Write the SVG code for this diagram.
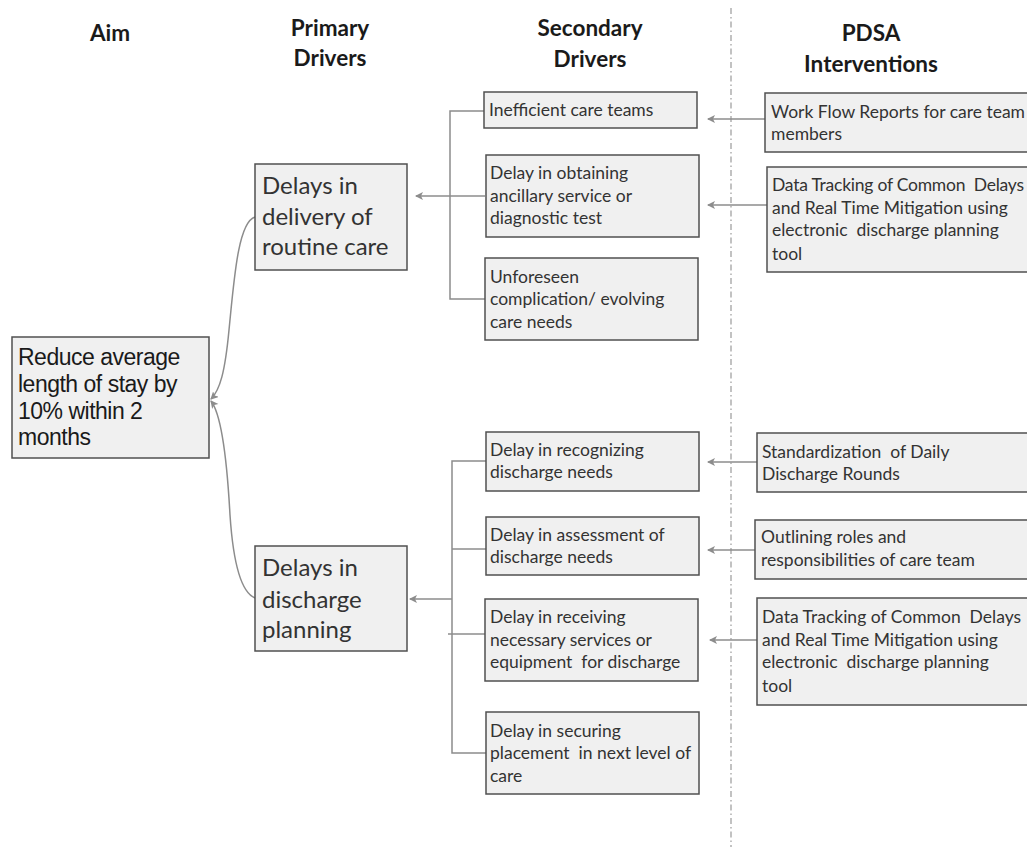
<svg xmlns="http://www.w3.org/2000/svg" width="1027" height="847" viewBox="0 0 1027 847">
<style>
.bg{fill:#ffffff}
.box{fill:#f0f0f0;stroke:#505050;stroke-width:1.5}
.hdr{font-family:Lato,"Open Sans","Liberation Sans",sans-serif;font-weight:bold;font-size:22.5px;fill:#1a1a1a;text-anchor:middle}
.aim{font-family:"Liberation Sans",Arial,sans-serif;font-size:23px;fill:#1a1a1a;letter-spacing:-0.5px}
.pri{font-family:Lato,"Open Sans",sans-serif;font-size:24px;fill:#333333}
.sec{font-family:Lato,"Open Sans",sans-serif;font-size:17.5px;fill:#333333;white-space:pre}
.con{fill:none;stroke:#8c8c8c;stroke-width:1.5}
.div{fill:none;stroke:#9a9a9a;stroke-width:1.2;stroke-dasharray:6 3 1.5 3}
</style>
<defs>
<marker id="ah" markerWidth="10" markerHeight="10" refX="7" refY="4" orient="auto" markerUnits="userSpaceOnUse">
<path d="M0,0 L8,4 L0,8 L2,4 Z" fill="#8c8c8c"/>
</marker>
</defs>
<rect class="bg" x="0" y="0" width="1027" height="847"/>

<g id="headers">
<text class="hdr" x="110" y="41">Aim</text>
<text class="hdr" x="330" y="36">Primary</text>
<text class="hdr" x="330" y="66">Drivers</text>
<text class="hdr" x="590" y="36">Secondary</text>
<text class="hdr" x="590" y="67">Drivers</text>
<text class="hdr" x="871" y="41">PDSA</text>
<text class="hdr" x="871" y="72">Interventions</text>
</g>

<path class="div" d="M731,8 V847"/>

<g id="connectors">
<path class="con" marker-end="url(#ah)" d="M255,217 C238,222 234,280 229,330 C225,372 220,390 211,399"/>
<path class="con" marker-end="url(#ah)" d="M255,598 C240,592 233,560 230,515 C227,460 222,415 211,401"/>
<path class="con" d="M484,111 H450 V299 H485"/>
<path class="con" marker-end="url(#ah)" d="M485,196 H416"/>
<path class="con" d="M486,461 H452 V753 H486"/>
<path class="con" d="M452,549 H488"/>
<path class="con" d="M448,634 H485"/>
<path class="con" marker-end="url(#ah)" d="M452,599 H410"/>
<path class="con" marker-end="url(#ah)" d="M765,119 H708"/>
<path class="con" marker-end="url(#ah)" d="M767,205 H708"/>
<path class="con" marker-end="url(#ah)" d="M757,462 H708"/>
<path class="con" marker-end="url(#ah)" d="M755,550 H708"/>
<path class="con" marker-end="url(#ah)" d="M757,640 H710"/>
</g>

<g id="aim">
<rect class="box" x="12" y="337" width="197" height="121"/>
<text class="aim" x="18" y="365">Reduce average</text>
<text class="aim" x="18" y="392">length of stay by</text>
<text class="aim" x="18" y="419">10% within 2</text>
<text class="aim" x="18" y="445">months</text>
</g>

<g id="primary-routine">
<rect class="box" x="255" y="164" width="152" height="106"/>
<text class="pri" x="262" y="194">Delays in</text>
<text class="pri" x="262" y="225">delivery of</text>
<text class="pri" x="262" y="255">routine care</text>
</g>

<g id="primary-discharge">
<rect class="box" x="255" y="546" width="152" height="105"/>
<text class="pri" x="262" y="576">Delays in</text>
<text class="pri" x="262" y="608">discharge</text>
<text class="pri" x="262" y="638">planning</text>
</g>

<g id="sec-inefficient">
<rect class="box" x="484" y="92" width="213" height="36"/>
<text class="sec" x="489" y="116">Inefficient care teams</text>
</g>

<g id="sec-ancillary">
<rect class="box" x="486" y="155" width="213" height="82"/>
<text class="sec" x="490" y="179">Delay in obtaining</text>
<text class="sec" x="490" y="202">ancillary service or</text>
<text class="sec" x="490" y="224">diagnostic test</text>
</g>

<g id="sec-unforeseen">
<rect class="box" x="485" y="258" width="213" height="82"/>
<text class="sec" x="490" y="283">Unforeseen</text>
<text class="sec" x="490" y="305">complication/ evolving</text>
<text class="sec" x="490" y="328">care needs</text>
</g>

<g id="sec-recognizing">
<rect class="box" x="486" y="432" width="213" height="59"/>
<text class="sec" x="490" y="456">Delay in recognizing</text>
<text class="sec" x="490" y="478">discharge needs</text>
</g>

<g id="sec-assessment">
<rect class="box" x="486" y="517" width="213" height="58"/>
<text class="sec" x="490" y="541">Delay in assessment of</text>
<text class="sec" x="490" y="563">discharge needs</text>
</g>

<g id="sec-receiving">
<rect class="box" x="485" y="599" width="213" height="82"/>
<text class="sec" x="490" y="623">Delay in receiving</text>
<text class="sec" x="490" y="646">necessary services or</text>
<text class="sec" x="490" y="668">equipment  for discharge</text>
</g>

<g id="sec-securing">
<rect class="box" x="486" y="712" width="213" height="82"/>
<text class="sec" x="490" y="737">Delay in securing</text>
<text class="sec" x="490" y="759">placement  in next level of</text>
<text class="sec" x="490" y="782">care</text>
</g>

<g id="pdsa-workflow">
<rect class="box" x="765" y="93" width="280" height="59"/>
<text class="sec" x="771" y="118">Work Flow Reports for care team</text>
<text class="sec" x="771" y="140">members</text>
</g>

<g id="pdsa-tracking-1">
<rect class="box" x="767" y="167" width="280" height="105"/>
<text class="sec" x="772" y="191" textLength="252" lengthAdjust="spacing">Data Tracking of Common  Delays</text>
<text class="sec" x="772" y="214">and Real Time Mitigation using</text>
<text class="sec" x="772" y="236">electronic  discharge planning</text>
<text class="sec" x="772" y="260">tool</text>
</g>

<g id="pdsa-standardization">
<rect class="box" x="757" y="433" width="290" height="59"/>
<text class="sec" x="762" y="458">Standardization  of Daily</text>
<text class="sec" x="762" y="480">Discharge Rounds</text>
</g>

<g id="pdsa-outlining">
<rect class="box" x="755" y="520" width="290" height="59"/>
<text class="sec" x="761" y="543">Outlining roles and</text>
<text class="sec" x="761" y="566">responsibilities of care team</text>
</g>

<g id="pdsa-tracking-2">
<rect class="box" x="757" y="598" width="290" height="107"/>
<text class="sec" x="762" y="623">Data Tracking of Common  Delays</text>
<text class="sec" x="762" y="646">and Real Time Mitigation using</text>
<text class="sec" x="762" y="668">electronic  discharge planning</text>
<text class="sec" x="762" y="692">tool</text>
</g>
</svg>
